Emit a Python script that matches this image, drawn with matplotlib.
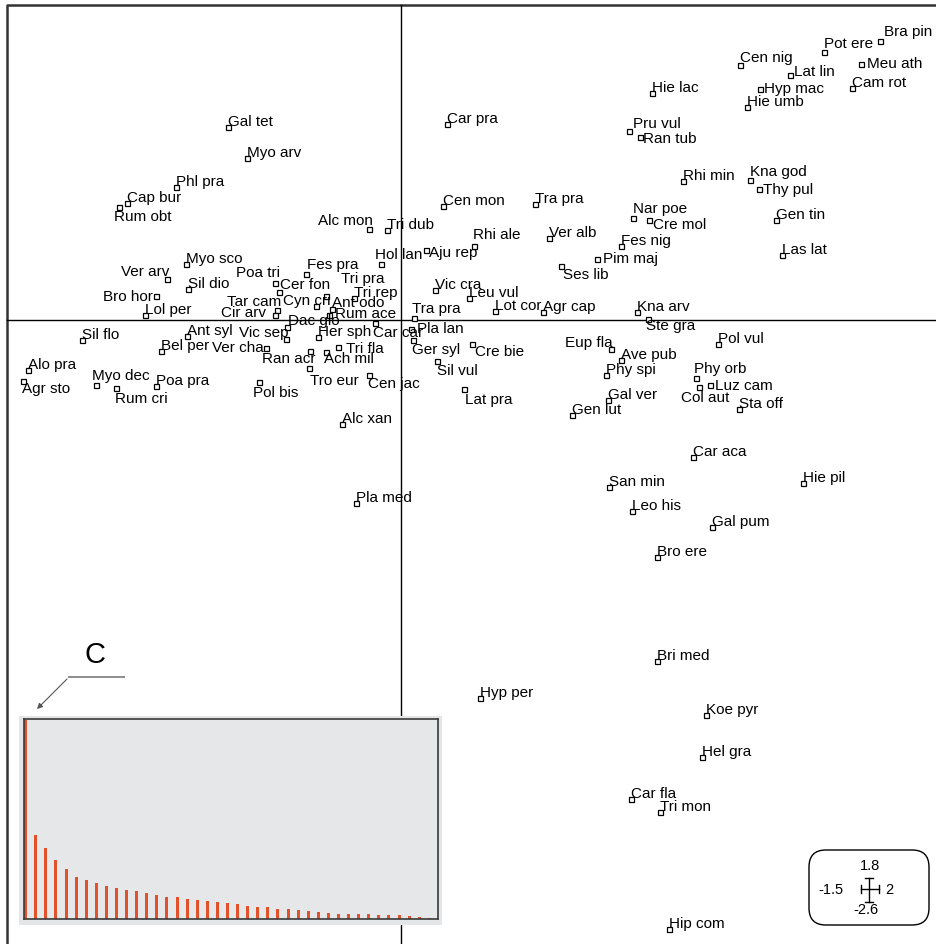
import matplotlib
matplotlib.use('Agg')
import matplotlib.pyplot as plt
from matplotlib.patches import Rectangle, FancyBboxPatch, FancyArrowPatch
from matplotlib.lines import Line2D

plt.rcParams['font.family'] = ['Liberation Sans', 'DejaVu Sans']

# ---------------- data ----------------
species = [
    "Gal tet", "Myo arv", "Phl pra", "Cap bur", "Rum obt", "Alc mon", "Tri dub", "Myo sco",
    "Ver arv", "Sil dio", "Bro hor", "Lol per", "Poa tri", "Cer fon", "Fes pra", "Hol lan",
    "Tri pra", "Cyn cri", "Ant odo", "Tri rep", "Rum ace", "Tar cam", "Cir arv", "Dac glo",
    "Vic sep", "Her sph", "Car car", "Sil flo", "Ant syl", "Bel per", "Ver cha", "Alo pra",
    "Agr sto", "Myo dec", "Rum cri", "Poa pra", "Pol bis", "Ran acr", "Ach mil", "Tri fla",
    "Tro eur", "Cen jac", "Alc xan", "Pla med", "Car pra", "Cen mon", "Tra pra", "Rhi ale",
    "Ver alb", "Aju rep", "Fes nig", "Pim maj", "Ses lib", "Vic cra", "Leu vul", "Lot cor",
    "Agr cap", "Tra pra", "Pla lan", "Ger syl", "Cre bie", "Sil vul", "Lat pra", "Eup fla",
    "Ave pub", "Phy spi", "Gal ver", "Gen lut", "Kna arv", "Ste gra", "Pol vul", "Phy orb",
    "Col aut", "Luz cam", "Sta off", "Car aca", "San min", "Hie pil", "Leo his", "Gal pum",
    "Bro ere", "Bri med", "Hyp per", "Koe pyr", "Hel gra", "Car fla", "Tri mon", "Hip com",
    "Hie lac", "Pru vul", "Ran tub", "Rhi min", "Kna god", "Thy pul", "Nar poe", "Cre mol",
    "Gen tin", "Las lat", "Cen nig", "Pot ere", "Bra pin", "Lat lin", "Hyp mac", "Hie umb",
    "Meu ath", "Cam rot",
]

axis1 = [
    -1.73, -1.54, -2.25, -2.74, -2.82, -0.32, -0.14, -2.15,
    -2.34, -2.13, -2.45, -2.56, -1.26, -1.22, -0.95, -0.20,
    -0.75, -0.85, -0.69, -0.47, -0.72, -1.24, -1.26, -1.14,
    -1.15, -0.83, -0.26, -3.19, -2.14, -2.40, -1.35, -3.73,
    -3.78, -3.05, -2.85, -2.45, -1.42, -0.91, -0.75, -0.63,
    -0.92, -0.32, -0.59, -0.45, 0.46, 0.42, 1.34, 0.73,
    1.48, 0.25, 2.20, 1.96, 1.60, 0.34, 0.68, 0.94,
    1.42, 0.13, 0.10, 0.12, 0.71, 0.36, 0.63, 2.10,
    2.20, 2.05, 2.07, 1.71, 2.36, 2.47, 3.17, 2.95,
    2.98, 3.09, 3.38, 2.92, 2.08, 4.02, 2.31, 3.11,
    2.56, 2.56, 0.79, 3.05, 3.01, 2.30, 2.59, 2.68,
    2.51, 2.28, 2.39, 2.82, 3.49, 3.58, 2.32, 2.48,
    3.75, 3.81, 3.39, 4.23, 4.79, 3.89, 3.59, 3.46,
    4.60, 4.51,
]

axis2 = [
    1.93, 1.62, 1.33, 1.17, 1.13, 0.91, 0.90, 0.56,
    0.41, 0.31, 0.24, 0.05, 0.37, 0.28, 0.46, 0.56,
    0.24, 0.14, 0.11, 0.22, 0.05, 0.10, 0.05, -0.07,
    -0.19, -0.17, -0.03, -0.20, -0.16, -0.31, -0.28, -0.50,
    -0.61, -0.65, -0.68, -0.66, -0.62, -0.31, -0.32, -0.27,
    -0.48, -0.55, -1.04, -1.83, 1.96, 1.14, 1.16, 0.74,
    0.82, 0.70, 0.74, 0.61, 0.54, 0.30, 0.22, 0.09,
    0.08, 0.02, -0.09, -0.20, -0.24, -0.41, -0.69, -0.29,
    -0.40, -0.55, -0.80, -0.95, 0.08, 0.01, -0.24, -0.58,
    -0.67, -0.65, -0.89, -1.37, -1.67, -1.63, -1.91, -2.07,
    -2.37, -3.41, -3.78, -3.95, -4.37, -4.79, -4.92, -6.09,
    2.27, 1.89, 1.83, 1.39, 1.40, 1.31, 1.02, 1.00,
    1.00, 0.65, 2.55, 2.68, 2.79, 2.45, 2.31, 2.13,
    2.56, 2.32,
]

eigenvalues = [5.96, 2.53, 2.13, 1.78, 1.50, 1.27, 1.18, 1.09, 0.99, 0.93,
               0.87, 0.84, 0.78, 0.72, 0.67, 0.65, 0.60, 0.56, 0.53, 0.50,
               0.48, 0.45, 0.40, 0.37, 0.37, 0.31, 0.31, 0.27, 0.25, 0.22,
               0.19, 0.16, 0.16, 0.14, 0.14, 0.12, 0.11, 0.11, 0.09, 0.06, 0.04]

scale_labels = ["1.8", "-1.5", "2", "-2.6"]

# ---------------- label placement (pixels: ha, dx, dy down) ----------------
DEFAULT = ('left', 0, -1)
label_place = {
    "Rum obt": ('left', -5, 14), "Alc mon": ('right', 4, -4), "Ver arv": ('right', 2, -3),
    "Bro hor": ('right', -3, 5), "Poa tri": ('right', 5, -6), "Cer fon": ('left', 1, -3),
    "Fes pra": ('left', 1, -5), "Hol lan": ('left', -6, -5), "Tri pra": ('left', 15, -13),
    "Cyn cri": ('right', 14, -1), "Ant odo": ('left', 0, -2), "Rum ace": ('left', 6, 3),
    "Tar cam": ('right', 4, -4), "Cir arv": ('right', -9, 2), "Dac glo": ('left', 1, -2),
    "Vic sep": ('right', 2, -2), "Car car": ('left', -2, 14), "Ver cha": ('right', -2, 4),
    "Agr sto": ('left', -1, 12), "Myo dec": ('left', -4, -5), "Rum cri": ('left', -1, 15),
    "Pol bis": ('left', -6, 15), "Ran acr": ('right', 5, 12), "Ach mil": ('left', -2, 11),
    "Tri fla": ('left', 8, 6), "Tro eur": ('left', 1, 17), "Cen jac": ('left', -1, 13),
    "Rhi ale": ('left', -1, -7), "Aju rep": ('left', 3, 7), "Pim maj": ('left', 6, 4),
    "Ses lib": ('left', 2, 13), "Tra pra 2": ('left', -2, -5), "Pla lan": ('left', 6, 4),
    "Ger syl": ('left', -1, 14), "Cre bie": ('left', 3, 12), "Sil vul": ('left', 0, 14),
    "Lat pra": ('left', 1, 15), "Eup fla": ('right', 2, -2), "Ste gra": ('left', -2, 11),
    "Phy orb": ('left', -2, -5), "Col aut": ('center', 6, 15), "Luz cam": ('left', 5, 5),
    "Pru vul": ('left', 4, -3), "Ran tub": ('left', 3, 6), "Kna god": ('left', 0, -4),
    "Thy pul": ('left', 4, 5), "Nar poe": ('left', 0, -5), "Cre mol": ('left', 4, 9),
    "Cen nig": ('left', 0, -3), "Pot ere": ('left', 0, -4), "Bra pin": ('left', 4, -5),
    "Lat lin": ('left', 4, 1), "Hyp mac": ('left', 4, 4), "Meu ath": ('left', 6, 4),
}

W, H = 936, 944
fig = plt.figure(figsize=(W / 100, H / 100), dpi=100)


def fx(px):
    return px / W


def fy(py):
    return 1 - py / H


ax = fig.add_axes([0, 0, 1, 1])
X0, X1, Y0, Y1 = -4.01, 5.35, -6.24, 3.20
ax.set_xlim(X0, X1)
ax.set_ylim(Y0, Y1)
ax.axis('off')

# frame (left / top) and origin axes
fl, ft = -3.94, 3.15
ax.plot([fl, fl, X1], [Y0, ft, ft], color='#333333', lw=1.8, solid_capstyle='butt', zorder=1)
ax.plot([fl, X1], [0, 0], color='black', lw=1.0, zorder=1)
ax.plot([0, 0], [Y0, ft], color='black', lw=1.0, zorder=1)

ax.plot(axis1, axis2, 's', ms=3.6, mfc='white', mec='black', mew=0.9, ls='none', zorder=3)

seen = {}
for name, x, y in zip(species, axis1, axis2):
    seen[name] = seen.get(name, 0) + 1
    key = name if seen[name] == 1 else f"{name} {seen[name]}"
    ha, dx, dy = label_place.get(key, DEFAULT)
    ax.annotate(name, (x, y), xytext=(dx, -dy), textcoords='offset pixels',
                ha=ha, va='baseline', fontsize=11, color='black', zorder=4)

# ---------------- eigenvalue inset ----------------
fig.add_artist(Rectangle((fx(19), fy(925)), (442 - 19) / W, (925 - 716) / H,
                         transform=fig.transFigure, facecolor='#e4e5e6',
                         edgecolor='none', zorder=1))
ins = fig.add_axes([fx(24), fy(919), (438 - 24) / W, (919 - 719) / H], zorder=2)
ins.set_facecolor('#e6e7e8')
ins.bar(range(1, len(eigenvalues) + 1), eigenvalues, width=0.3, color='#e3512b')
ins.set_xlim(0.83, 41.86)
ins.set_ylim(0, 6.0)
ins.set_xticks([])
ins.set_yticks([])
for s in ins.spines.values():
    s.set_color('#3a3a3a')
    s.set_linewidth(1.2)

fig.text(fx(95), fy(655), 'C', fontsize=21, ha='center', va='center', zorder=3)
fig.add_artist(Line2D([fx(124), fx(69)], [fy(677), fy(677)], color='#8c8c8c', lw=1.4,
                      transform=fig.transFigure, zorder=3))
fig.add_artist(FancyArrowPatch((fx(69), fy(677)), (fx(35), fy(711)), transform=fig.transFigure,
                               arrowstyle='-|>', mutation_scale=8, color='#555555', lw=0.8,
                               zorder=3))

# ---------------- scale box ----------------
fig.add_artist(FancyBboxPatch((fx(809), fy(925)), 120 / W, 75 / H,
                              boxstyle='round,pad=0,rounding_size=0.018',
                              transform=fig.transFigure, facecolor='white',
                              edgecolor='black', lw=1.0, zorder=3))
for txt, (px, py) in zip(scale_labels, [(870, 866), (831, 890), (889, 890), (866, 910)]):
    fig.text(fx(px), fy(py), txt, fontsize=10.5, ha='center', va='center', zorder=4)
cross = [((861, 879), (889, 889)), ((861, 861), (885, 893)), ((879, 879), (885, 893)),
         ((869, 869), (878, 902)), ((865, 873), (878, 878)), ((865, 873), (902, 902))]
for (xa, xb), (ya, yb) in cross:
    fig.add_artist(Line2D([fx(xa), fx(xb)], [fy(ya), fy(yb)], color='black', lw=1.0,
                          transform=fig.transFigure, zorder=4))

fig.savefig('out.png', dpi=100)
